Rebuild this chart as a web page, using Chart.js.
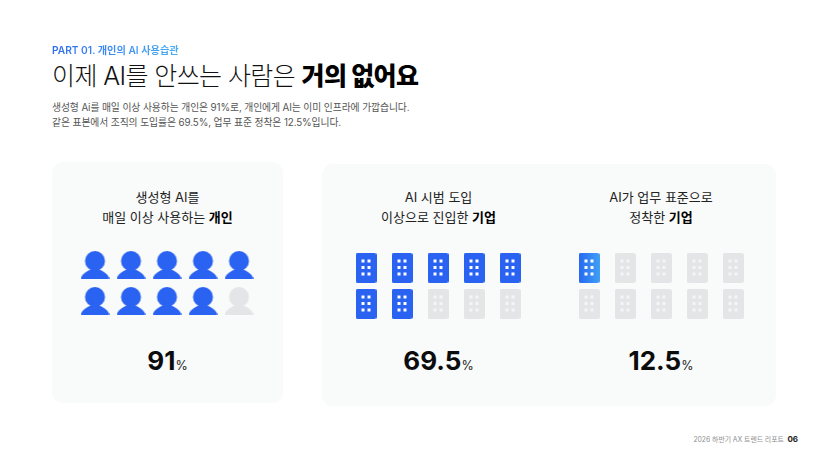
<!DOCTYPE html>
<html lang="ko">
<head>
<meta charset="utf-8">
<script src="https://cdn.jsdelivr.net/npm/chart.js@4"></script>
<style>
html,body{margin:0;padding:0;background:#fff;width:828px;height:466px;overflow:hidden}
body{font-family:"Inter","Noto Sans CJK KR",sans-serif;position:relative;color:#111}
.t{position:absolute;white-space:nowrap;line-height:1}
.c{transform:translateX(-50%);text-align:center}
.panel{position:absolute;background:#f9fafa;border-radius:11px}
canvas{position:absolute}
b{font-weight:700;color:#000}
</style>
</head>
<body>
<div class="t" id="part" style="left:52px;top:43.5px;font-size:10.2px;font-weight:600;padding:1px 0;background:linear-gradient(90deg,#2f6cf0,#4aaef2);-webkit-background-clip:text;background-clip:text;color:transparent">PART 01. 개인의 AI 사용습관</div>
<div class="t" style="left:52px;top:64px;font-size:25px;font-weight:300;letter-spacing:-.6px;color:#111">이제 AI를 안쓰는 사람은 <b style="font-weight:800">거의 없어요</b></div>
<div class="t" style="left:52px;top:103px;font-size:9.8px;letter-spacing:-.1px;color:#555">생성형 Ai를 매일 이상 사용하는 개인은 91%로, 개인에게 AI는 이미 인프라에 가깝습니다.</div>
<div class="t" style="left:52px;top:118px;font-size:9.8px;letter-spacing:-.1px;color:#555">같은 표본에서 조직의 도입률은 69.5%, 업무 표준 정착은 12.5%입니다.</div>

<div class="panel" style="left:52px;top:162px;width:231px;height:241px"></div>
<div class="panel" style="left:322px;top:164px;width:454px;height:242px"></div>

<div id="labels"></div>

<canvas id="c0" width="216" height="108" style="left:59px;top:229px"></canvas>
<canvas id="c1" width="216" height="108" style="left:330px;top:231.5px"></canvas>
<canvas id="c2" width="216" height="108" style="left:552.5px;top:231.5px"></canvas>

<div class="t" style="right:30px;top:435px;font-size:6.9px;letter-spacing:-.05px;color:#8f8f8f">2026 하반기 AX 트렌드 리포트 &nbsp;<span style="font-size:8px;font-weight:700;color:#222">06</span></div>

<script>
const titleLine1 = ["생성형 AI를", "AI 시범 도입", "AI가 업무 표준으로"];
const titleLine2 = ["매일 이상 사용하는", "이상으로 진입한", "정착한"];
const subjects = ["개인", "기업", "기업"];
const rates = [91, 69.5, 12.5];
const filledCounts = [9, 7, 1];
const iconKinds = ["person", "building", "building"];
const gridColumns = [1, 2, 3, 4, 5];
const gridRows = [2, 1];
const labelCenters = [167.5, 438.5, 661];

const BLUE = "#2a63f1", GREY = "#e3e5e7";

function person(fill) {
  const c = document.createElement("canvas"); c.width = 29; c.height = 28;
  const g = c.getContext("2d"); g.fillStyle = fill;
  g.beginPath(); g.arc(14.5, 10, 10, 0, Math.PI * 2); g.fill();
  g.beginPath();
  g.moveTo(1.2, 28);
  g.quadraticCurveTo(-0.4, 28, 0.4, 26.4);
  g.bezierCurveTo(2.5, 22.5, 6, 20.5, 10, 18.5);
  g.lineTo(19, 18.5);
  g.bezierCurveTo(23, 20.5, 26.5, 22.5, 28.6, 26.4);
  g.quadraticCurveTo(29.4, 28, 27.8, 28);
  g.closePath(); g.fill();
  return c;
}
function building(fill, dot, gradient) {
  const c = document.createElement("canvas"); c.width = 21; c.height = 30;
  const g = c.getContext("2d");
  if (gradient) {
    const l = g.createLinearGradient(0, 0, 21, 0);
    l.addColorStop(0, "#2768f1"); l.addColorStop(1, "#3f9ff5");
    g.fillStyle = l;
  } else g.fillStyle = fill;
  g.beginPath(); g.roundRect(0, 0, 21, 30, 2); g.fill();
  g.fillStyle = dot;
  for (const y of [6.5, 13, 19.5]) for (const x of [6, 12]) g.fillRect(x, y, 3, 3);
  return c;
}

const icons = {
  person: { on: person(BLUE), off: person(GREY) },
  building: { on: building(BLUE, "#fff"), off: building(GREY, "#f4f5f6") },
  partial: building(BLUE, "#fff", true)
};

rates.forEach((rate, i) => {
  const host = document.getElementById("labels");
  const cx = labelCenters[i];
  host.insertAdjacentHTML("beforeend",
    `<div class="t c" style="left:${cx}px;top:191px;font-size:13px;color:#222">${titleLine1[i]}</div>
     <div class="t c" style="left:${cx}px;top:210.5px;font-size:13px;color:#222">${titleLine2[i]} <b>${subjects[i]}</b></div>
     <div class="t c" style="left:${cx}px;top:347.5px;font-size:26px;font-weight:700;color:#0c0c0c">${rate}<span style="font-size:12.5px;font-weight:400;color:#222">%</span></div>`);

  const pts = [];
  gridRows.forEach(r => gridColumns.forEach(col => pts.push({ x: col, y: r })));
  const kind = iconKinds[i];
  const styles = pts.map((_, k) => {
    if (k >= filledCounts[i]) return icons[kind].off;
    if (rate === 12.5) return icons.partial;
    return icons[kind].on;
  });
  new Chart(document.getElementById("c" + i), {
    type: "scatter",
    data: { datasets: [{ label: titleLine2[i] + " " + subjects[i], data: pts, pointStyle: styles, pointRadius: 14, pointHoverRadius: 14 }] },
    options: {
      responsive: false, animation: false, events: [],
      layout: { padding: 0, autoPadding: false },
      plugins: { legend: { display: false }, tooltip: { enabled: false } },
      scales: {
        x: { type: "linear", min: 0, max: 6, display: false },
        y: { type: "linear", min: 0, max: 3, display: false }
      }
    }
  });
});
</script>
</body>
</html>
